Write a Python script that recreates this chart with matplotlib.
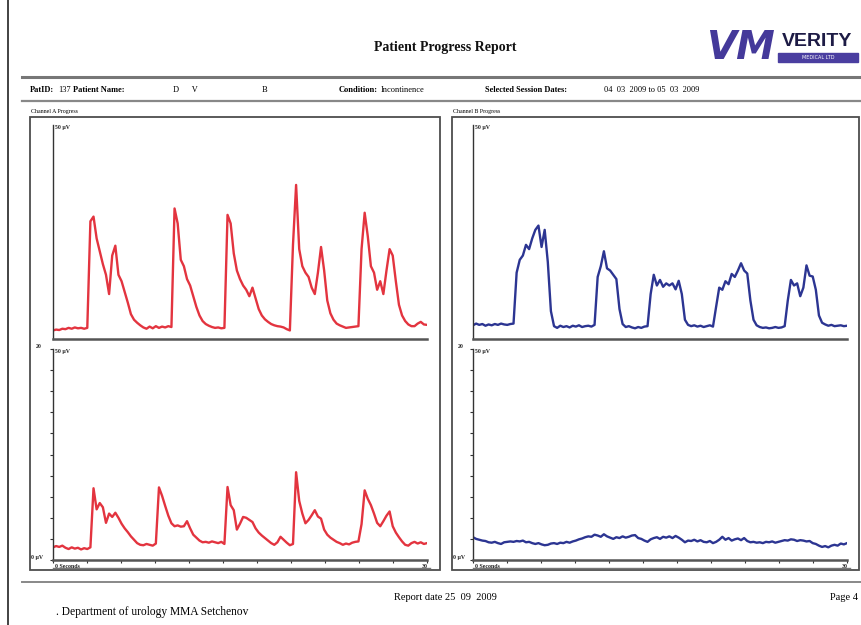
import numpy as np
import matplotlib.pyplot as plt
from matplotlib.patches import Rectangle

seconds = np.linspace(0, 30, 121)

chan_a_upper = [
    2.0, 2.2, 2.1, 2.4, 2.3, 2.6, 2.4, 2.7,
    2.5, 2.6, 2.4, 2.6, 27.5, 28.6, 23.5, 20.5,
    17.5, 15.0, 10.5, 19.5, 21.8, 15.0, 13.5, 11.0,
    8.5, 5.8, 4.5, 3.8, 3.2, 2.7, 2.4, 2.9,
    2.5, 3.0, 2.6, 2.9, 2.7, 3.0, 2.8, 30.5,
    27.0, 18.5, 17.0, 14.0, 12.5, 10.0, 7.5, 5.5,
    4.2, 3.5, 3.1, 2.8, 2.6, 2.7, 2.5, 2.6,
    29.0, 27.0, 20.0, 16.0, 14.0, 12.5, 11.5, 10.0,
    12.0, 9.5, 7.0, 5.5, 4.6, 4.0, 3.5, 3.2,
    3.0, 2.9, 2.7, 2.3, 2.0, 22.0, 36.0, 21.0,
    17.0, 15.5, 14.5, 12.0, 10.5, 15.5, 21.5, 16.0,
    9.0, 6.0, 4.5, 3.6, 3.2, 2.9, 2.6, 2.7,
    2.8, 2.9, 3.0, 21.0, 29.5, 24.0, 17.0, 15.5,
    11.5, 13.5, 10.5, 16.0, 21.0, 19.5, 13.5, 8.0,
    5.5, 4.2, 3.4, 3.0, 3.0, 3.6, 4.0, 3.4,
    3.3,
]

chan_a_lower = [
    3.0, 3.3, 3.1, 3.4, 2.9, 2.6, 3.0, 2.7,
    2.9, 2.5, 2.8, 2.6, 3.0, 17.0, 12.0, 13.5,
    12.5, 8.8, 11.0, 10.2, 11.2, 10.0, 8.6, 7.5,
    6.6, 5.6, 4.8, 4.0, 3.6, 3.5, 3.8, 3.6,
    3.4, 3.9, 17.2, 15.2, 12.8, 10.5, 8.7, 8.0,
    8.2, 7.9, 8.0, 9.2, 7.5, 6.0, 5.3, 4.6,
    4.2, 4.3, 4.1, 4.4, 4.2, 4.0, 4.3, 3.8,
    17.3, 13.0, 11.8, 7.2, 8.6, 10.2, 10.0, 9.5,
    9.0, 7.5, 6.5, 5.8, 5.2, 4.6, 4.0, 3.6,
    4.2, 5.5, 4.8, 4.1, 3.5, 3.8, 20.8, 14.0,
    11.0, 8.7, 9.5, 10.6, 11.8, 10.3, 9.8, 7.2,
    6.0, 5.3, 4.8, 4.3, 4.0, 3.6, 3.9, 3.7,
    4.1, 4.3, 4.4, 8.5, 16.5, 14.5, 13.0, 11.0,
    8.8, 8.0, 9.2, 10.5, 11.5, 8.0, 6.5, 5.4,
    4.4, 3.6, 3.4, 4.0, 4.3, 3.9, 4.2, 3.8,
    4.0,
]

chan_b_upper = [
    3.2, 3.6, 3.3, 3.5, 3.1, 3.4, 3.2, 3.5,
    3.3, 3.6, 3.4, 3.3, 3.5, 3.6, 15.5, 18.5,
    19.5, 22.0, 21.0, 23.5, 25.5, 26.5, 21.5, 25.5,
    18.0, 6.5, 3.0, 2.6, 3.1, 2.8, 3.0, 2.7,
    3.1, 2.9, 3.2, 2.8, 3.0, 3.1, 2.9, 3.3,
    14.5, 17.0, 20.5, 16.5, 16.0, 15.0, 14.0, 7.0,
    3.5, 2.8, 3.0, 2.7, 2.5, 2.8, 2.6, 2.9,
    3.0, 10.5, 15.0, 12.5, 13.8, 12.2, 13.0, 12.5,
    13.0, 11.6, 13.6, 10.5, 4.5, 3.3, 3.0, 3.2,
    2.9, 3.1, 2.8, 3.0, 3.2, 2.9, 7.5, 12.0,
    11.5, 13.5, 12.8, 15.2, 14.5, 16.0, 17.7, 16.0,
    15.3, 9.0, 4.5, 3.2, 2.8, 2.6, 2.7, 2.5,
    2.6, 2.8, 2.6, 2.7, 3.0, 9.0, 13.8, 12.5,
    13.0, 10.0, 12.0, 17.2, 14.8, 14.6, 11.5, 5.5,
    3.8, 3.4, 3.1, 3.3, 3.0, 3.1, 3.2, 3.0,
    3.1,
]

chan_b_lower = [
    5.4, 5.0, 4.8, 4.6, 4.5, 4.2, 4.1, 4.3,
    4.0, 3.8, 4.2, 4.3, 4.4, 4.3, 4.5, 4.4,
    4.6, 4.2, 4.3, 4.0, 3.8, 4.0, 3.7, 3.5,
    3.6, 3.9, 4.0, 3.8, 4.1, 4.0, 4.3, 4.1,
    4.4, 4.6, 4.9, 5.1, 5.4, 5.6, 5.5, 6.0,
    5.8, 5.5, 6.1, 5.6, 5.3, 5.0, 5.4, 5.2,
    5.6, 5.3, 5.5, 5.8, 5.9, 5.2, 5.0, 4.6,
    4.3, 4.9, 5.2, 5.4, 5.0, 5.5, 5.3, 5.6,
    5.2, 5.7, 5.3, 4.8, 4.2, 4.6, 4.5, 4.8,
    4.4, 4.7, 4.3, 4.2, 4.5, 4.0, 4.3, 4.8,
    5.5, 4.8, 5.2, 4.6, 4.9, 5.1, 4.7, 5.2,
    4.5, 4.2, 4.3, 4.1, 4.2, 4.0, 4.3, 4.2,
    4.4, 4.1, 4.3, 4.5, 4.7, 4.6, 4.9, 4.8,
    4.5, 4.7, 4.6, 4.4, 4.5, 4.0, 3.8, 3.4,
    3.1, 3.3, 3.0, 3.4, 3.6, 3.4, 3.9, 3.7,
    4.0,
]

header_labels = ["PatID:", "Patient Name:", "Condition:", "Selected Session Dates:"]
header_values = ["137", "D      V", "Incontinence", "04  03  2009 to 05  03  2009"]
channel_titles = ["Channel A Progress", "Channel B Progress"]
y_top_label = "50 \u00b5V"
y_zero_label = "0 \u00b5V"
x_start_label = "0 Seconds"
x_end_label = "30"

red = "#e3343f"
blue = "#2c3592"
frame = "#4d4d4d"
serif = ["Liberation Serif", "DejaVu Serif"]

W, H = 861, 625
fig = plt.figure(figsize=(W / 100, H / 100), dpi=100)
fig.patch.set_facecolor("white")

# page overlay in pixel coordinates
bg = fig.add_axes([0, 0, 1, 1], zorder=0)
bg.set_xlim(0, W)
bg.set_ylim(H, 0)
bg.axis("off")


def add_ax(x0, y0, x1, y1):
    a = fig.add_axes([x0 / W, 1 - y1 / H, (x1 - x0) / W, (y1 - y0) / H], zorder=2)
    a.patch.set_alpha(0)
    return a


# page border and rules
bg.plot([8, 8], [0, H], color="#222222", lw=1.2)
bg.plot([22, W], [77, 77], color="#777777", lw=2.2)
bg.plot([22, W], [101, 101], color="#888888", lw=1.6)
bg.plot([22, W], [582, 582], color="#888888", lw=1.4)

# title
bg.text(445, 47, "Patient Progress Report", ha="center", va="center",
        fontsize=10, fontweight="bold", family=serif, color="#111111")

# logo
bg.text(706, 48, "VM", ha="left", va="center", fontsize=28, fontweight="bold",
        family=["DejaVu Sans"], color="#44399a", style="italic")
bg.text(817, 41, "VERITY", ha="center", va="center", fontsize=14, fontweight="bold",
        family=["Liberation Sans Narrow", "Liberation Sans", "DejaVu Sans"], color="#1d1b45")
bg.add_patch(Rectangle((778, 53), 80, 9, color="#4a3ea0"))
bg.text(818, 57.5, "MEDICAL LTD", ha="center", va="center", fontsize=3.5,
        color="white", family=["DejaVu Sans"])

# header row
hx = [30, 73, 339, 485]
vx = [58, 173, 381, 604]
for lab, val, x1, x2 in zip(header_labels, header_values, hx, vx):
    bg.text(x1, 90, lab, ha="left", va="center", fontsize=6, fontweight="bold", family=serif)
    bg.text(x2, 90, val, ha="left", va="center", fontsize=6, family=serif)
bg.text(262, 90, "B", ha="left", va="center", fontsize=6, family=serif)

# footer
bg.text(445, 597, "Report date 25  09  2009", ha="center", va="center", fontsize=7.5, family=serif)
bg.text(858, 597, "Page 4", ha="right", va="center", fontsize=7.5, family=serif)
bg.text(56, 612, ". Department of urology MMA Setchenov", ha="left", va="center",
        fontsize=8.3, family=serif)

panels = [(0, chan_a_upper, chan_a_lower, red, (30, 440)),
          (420, chan_b_upper, chan_b_lower, blue, (452, 859))]

for (dx, upper, lower, col, (bx0, bx1)), title in zip(panels, channel_titles):
    bg.add_patch(Rectangle((bx0, 117), bx1 - bx0, 453, fill=False, ec=frame, lw=1.3))
    bg.text(bx0 + 1, 112, title, ha="left", va="center", fontsize=4.2, family=serif)

    top = add_ax(53 + dx, 125, 427 + dx, 339)
    bot = add_ax(53 + dx, 349, 427 + dx, 560)

    for a in (top, bot):
        a.set_xlim(0, 30)
        a.set_ylim(0, 50)
        for s in ("top", "right"):
            a.spines[s].set_visible(False)
        a.spines["left"].set_color("#333333")
        a.spines["left"].set_linewidth(1.0)
        a.spines["bottom"].set_color("#555555")
        a.spines["bottom"].set_linewidth(1.8)

    top.set_xticks([])
    top.set_yticks([])
    bot.set_xticks(np.linspace(0, 30, 12))
    bot.set_yticks(np.arange(0, 51, 5))
    bot.tick_params(length=2.5, width=0.8, color="#333333", direction="out",
                    labelbottom=False, labelleft=False)

    top.plot(seconds, upper, color=col, lw=1.7)
    bot.plot(seconds, lower, color=col, lw=1.7)

    bold_small = dict(fontsize=4.2, fontweight="bold", family=serif, color="#222222")
    bg.text(55 + dx, 128, y_top_label, ha="left", va="center", **bold_small)
    bg.text(55 + dx, 351, y_top_label, ha="left", va="center", **bold_small)
    bg.text(bx0 + 6, 346, "20", ha="left", va="center", **bold_small)
    bg.text(bx0 + 1, 558, y_zero_label, ha="left", va="center", **bold_small)
    bg.text(55 + dx, 566, x_start_label, ha="left", va="center", **bold_small)
    bg.text(425 + dx, 566, x_end_label, ha="center", va="center", **bold_small)
    bg.plot([53 + dx, 430 + dx], [568, 568], color="#777777", lw=1.0)

fig.savefig("out.png", dpi=100, facecolor="white")
